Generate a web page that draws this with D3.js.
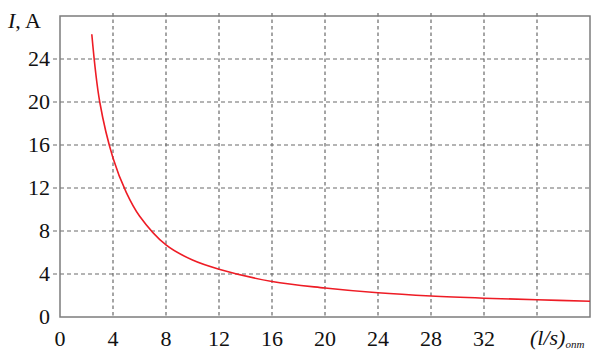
<!DOCTYPE html>
<html>
<head>
<meta charset="utf-8">
<script src="https://cdn.jsdelivr.net/npm/d3@7"></script>
<style>
  html, body { margin: 0; padding: 0; background: #fff; overflow: hidden; }
  svg { display: block; }
  svg text { font-family: "Liberation Serif", "Times New Roman", Tinos, "DejaVu Serif", serif; }
</style>
</head>
<body>
<svg id="chart" width="591" height="351"></svg>
<script>
// Current I versus (l/s) ratio
const ratio   = [2.4, 3.0, 4.0, 5.0, 6.0, 8.0, 10.0, 12.0, 16.0, 20.0, 24.0, 28.0, 32.0, 36.0, 40.0];
const current = [26.3, 20.0, 14.8, 11.6, 9.4, 6.7, 5.3, 4.45, 3.3, 2.7, 2.25, 1.95, 1.75, 1.6, 1.47];

const xTicks = [0, 4, 8, 12, 16, 20, 24, 28, 32];
const xGrid  = [4, 8, 12, 16, 20, 24, 28, 32, 36];
const yTicks = [0, 4, 8, 12, 16, 20, 24];

const svg = d3.select("#chart");
const plotL = 60, plotT = 16, plotR = 590, plotB = 317;
const serif = "'Liberation Serif', 'Times New Roman', Tinos, serif";

const x = d3.scaleLinear().domain([0, 40]).range([plotL, plotR]);
const y = d3.scaleLinear().domain([0, 28]).range([plotB, plotT]);

const gridColor = "#6a6a6a";

// vertical grid lines
svg.append("g").selectAll("line").data(xGrid).join("line")
  .attr("x1", d => x(d)).attr("x2", d => x(d))
  .attr("y1", plotT - 3).attr("y2", plotB)
  .attr("stroke", gridColor).attr("stroke-width", 1.2)
  .attr("stroke-dasharray", "3.5,3");

// horizontal grid lines (extend slightly left of the axis as ticks)
svg.append("g").selectAll("line").data(yTicks.filter(d => d > 0)).join("line")
  .attr("x1", plotL - 7).attr("x2", plotR)
  .attr("y1", d => y(d)).attr("y2", d => y(d))
  .attr("stroke", gridColor).attr("stroke-width", 1.2)
  .attr("stroke-dasharray", "4,3");

// frame
svg.append("rect")
  .attr("x", plotL).attr("y", plotT)
  .attr("width", plotR - plotL).attr("height", plotB - plotT)
  .attr("fill", "none").attr("stroke", "#7c7c7c").attr("stroke-width", 1.5);

// y tick labels
svg.append("g").selectAll("text").data(yTicks).join("text")
  .attr("x", 50).attr("y", d => y(d)).attr("dy", "0.34em")
  .attr("text-anchor", "end")
  .attr("font-family", serif)
  .attr("font-size", 22).attr("fill", "#111")
  .text(d => d);

// x tick labels
svg.append("g").selectAll("text").data(xTicks).join("text")
  .attr("x", d => x(d)).attr("y", 346)
  .attr("text-anchor", "middle")
  .attr("font-family", serif)
  .attr("font-size", 22).attr("fill", "#111")
  .text(d => d);

// x axis title
const xt = svg.append("text").attr("x", 530).attr("y", 345)
  .attr("font-family", serif)
  .attr("font-size", 22).attr("font-style", "italic").attr("fill", "#111");
xt.append("tspan").text("(l/s)");
xt.append("tspan").attr("font-size", 11).attr("dy", 3).text("опт");

// y axis title
const yt = svg.append("text").attr("x", 8).attr("y", 28)
  .attr("font-family", serif)
  .attr("font-size", 22).attr("fill", "#111");
yt.append("tspan").attr("font-style", "italic").text("I");
yt.append("tspan").text(", A");

// curve
const pts = ratio.map((r, i) => [r, current[i]]);
const line = d3.line().x(d => x(d[0])).y(d => y(d[1])).curve(d3.curveCatmullRom.alpha(0.5));
svg.append("path").datum(pts)
  .attr("d", line)
  .attr("fill", "none").attr("stroke", "#ee1c25").attr("stroke-width", 1.6);
</script>
</body>
</html>
